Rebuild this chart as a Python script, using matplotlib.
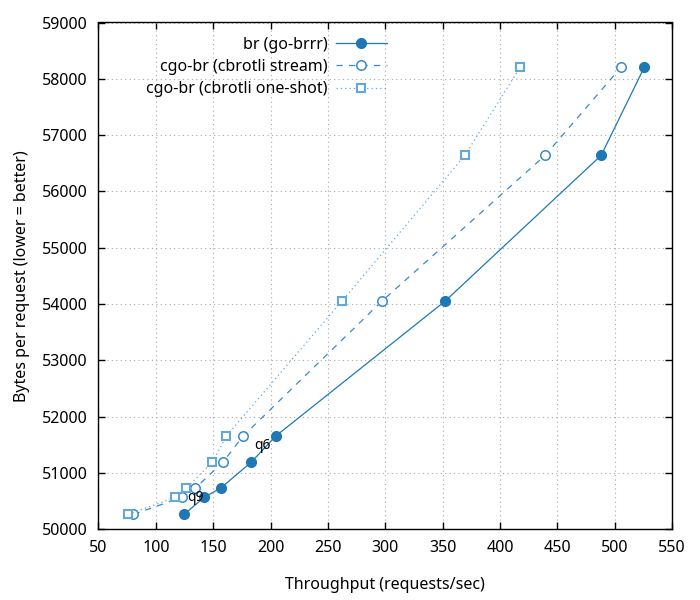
import matplotlib
matplotlib.use("Agg")
import matplotlib.pyplot as plt

plt.rcParams['font.family'] = ['Noto Sans', 'DejaVu Sans']
plt.rcParams['font.size'] = 11.5

# bytes per request (shared by all series)
bytes_per_req = [50266, 50568, 50733, 51195, 51657, 54054, 56642, 58204]

# throughput (requests/sec)
br_go = [124.7, 142.1, 156.6, 183.3, 204.6, 352.3, 488.3, 525.8]
cgo_stream = [80.5, 122.7, 134.5, 158.6, 176.1, 297.2, 439.5, 505.5]
cgo_oneshot = [76.1, 116.8, 126.6, 149.3, 161.5, 262.3, 369.5, 417.5]

series_labels = ['br (go-brrr)', 'cgo-br (cbrotli stream)', 'cgo-br (cbrotli one-shot)']

# point labels
annot_text = ['q9', 'q6']
annot_x = [134.2, 192.6]
annot_y = [50568, 51497]

fig = plt.figure(figsize=(7, 6), dpi=100)
ax = fig.add_axes([0.1407, 0.1178, 0.8193, 0.8447])

c1 = '#1f78b4'
c2 = '#3a8ac8'
c3 = '#62a8d8'

ax.plot(br_go, bytes_per_req, color=c1, lw=0.9, marker='o', ms=7,
        mfc=c1, mec=c1, label=series_labels[0])
ax.plot(cgo_stream, bytes_per_req, color=c2, lw=0.9, marker='o', ms=6.8,
        mfc='white', mec=c2, mew=1.1, dashes=(5, 5), label=series_labels[1])
ax.plot(cgo_oneshot, bytes_per_req, color=c3, lw=0.9, marker='s', ms=6,
        mfc='white', mec=c3, mew=1.5, dashes=(1, 2.5), label=series_labels[2])

for t, x, y in zip(annot_text, annot_x, annot_y):
    ax.text(x, y, t, ha='center', va='center', fontsize=10)

ax.set_xlim(50, 550)
ax.set_ylim(50000, 59000)
ax.set_xticks(range(50, 551, 50))
ax.set_yticks(range(50000, 59001, 1000))
ax.tick_params(direction='in', length=5, width=1, top=True, right=True, pad=8)
ax.grid(True, color='#a8a8a8', lw=0.8, dashes=(1, 3))
ax.set_axisbelow(True)
for s in ax.spines.values():
    s.set_linewidth(1)

ax.set_xlabel('Throughput (requests/sec)', labelpad=15)
ax.set_ylabel('Bytes per request (lower = better)', labelpad=8)

ax.legend(loc='upper right', bbox_to_anchor=(0.503, 0.972), frameon=False,
          markerfirst=False, handlelength=3.2, labelspacing=0.4,
          borderpad=0, borderaxespad=0, handletextpad=0.5, fontsize=11.5)

fig.savefig('out.png', dpi=100)
